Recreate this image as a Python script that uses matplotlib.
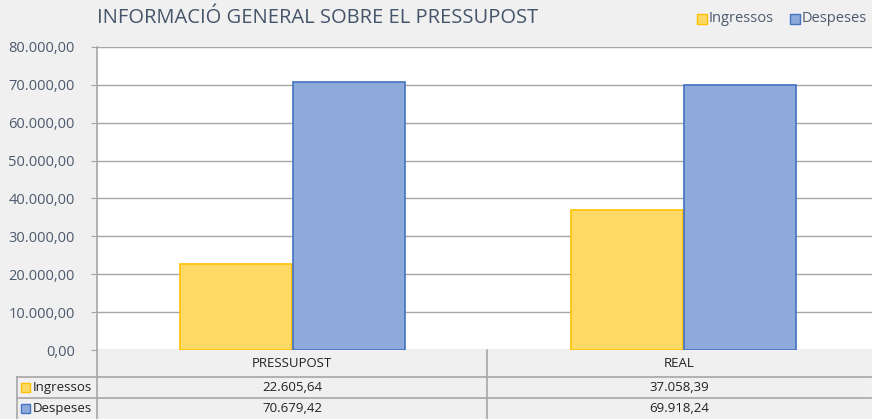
import matplotlib
matplotlib.use("Agg")
import matplotlib.pyplot as plt
import numpy as np
from matplotlib.lines import Line2D
from matplotlib.patches import Rectangle

categories = ["PRESSUPOST", "REAL"]
series = ["Ingressos", "Despeses"]
ingressos = [22605.64, 37058.39]
despeses = [70679.42, 69918.24]
yticks = [0, 10000, 20000, 30000, 40000, 50000, 60000, 70000, 80000]

BG, GRID, TXT, INK = "#f0f0f0", "#a6a6a6", "#4d5a6e", "#222222"
FILL = ["#ffd966", "#8eaadb"]
EDGE = ["#ffc000", "#4472c4"]
plt.rcParams.update({"font.family": ["Open Sans", "DejaVu Sans"]})

W, H = 872, 419
fig = plt.figure(figsize=(W / 100, H / 100), dpi=100)
fig.patch.set_facecolor(BG)

def fx(px): return px / W
def fy(py): return 1 - py / H

def eur(v):
    s = f"{v:,.2f}"
    return s.replace(",", "X").replace(".", ",").replace("X", ".")

def fline(x0, y0, x1, y1):
    fig.add_artist(Line2D([fx(x0), fx(x1)], [fy(y0), fy(y1)], color=GRID, lw=1.2,
                          transform=fig.transFigure))

# plot area runs a little past the right edge (clipped), like the source
L, R, T, B = 97, 879, 47, 350
ax = fig.add_axes([fx(L), fy(B), fx(R) - fx(L), fy(T) - fy(B)])
ax.set_facecolor("white")
x = np.arange(len(categories))
bw = 0.287
for i, vals in enumerate([ingressos, despeses]):
    ax.bar(x + (i - 0.5) * bw * 1.01, vals, bw, color=FILL[i], edgecolor=EDGE[i], lw=1.2,
           zorder=3, label=series[i])
ax.set_xlim(-0.5, len(categories) - 0.5)
ax.set_ylim(0, 80000)
ax.set_yticks(yticks)
ax.set_yticklabels([eur(v) for v in yticks], fontsize=10.5, color=TXT)
ax.grid(axis="y", color=GRID, lw=1)
ax.set_axisbelow(True)
ax.set_xticks([])
ax.tick_params(axis="y", length=4, color=GRID, pad=12)
for sp in ["top", "right", "bottom"]:
    ax.spines[sp].set_visible(False)
ax.spines["left"].set_color(GRID)
ax.spines["left"].set_linewidth(1.2)

fig.text(fx(L), fy(18), "INFORMACIÓ GENERAL SOBRE EL PRESSUPOST", fontsize=14.5,
         color="#44546a", ha="left", va="center")

# legend (top right)
lx = [697, 790]
for i, s in enumerate(series):
    fig.add_artist(Rectangle((fx(lx[i]), fy(24)), fx(10), 10 / H, facecolor=FILL[i],
                             edgecolor=EDGE[i], lw=1, transform=fig.transFigure))
    fig.text(fx(lx[i] + 12), fy(18.5), s, fontsize=10.5, color=TXT, ha="left", va="center")

# data table
TR = 871
rows = [377, 398, 419]
cols = [L, 487, TR]
fline(L, B, L, 419)
fline(487, B, 487, 419)
fline(17, rows[0], 17, 419)
fline(17, rows[0], TR, rows[0])
fline(17, rows[1], TR, rows[1])
for j, c in enumerate(categories):
    fig.text(fx((cols[j] + cols[j + 1]) / 2), fy((B + rows[0]) / 2), c, fontsize=9.5,
             color=INK, ha="center", va="center")
for i, vals in enumerate([ingressos, despeses]):
    yc = (rows[i] + rows[i + 1]) / 2
    fig.add_artist(Rectangle((fx(21), fy(yc + 4.5)), fx(9), 9 / H, facecolor=FILL[i],
                             edgecolor=EDGE[i], lw=1, transform=fig.transFigure))
    fig.text(fx(33), fy(yc), series[i], fontsize=9.5, color=INK, ha="left", va="center")
    for j, v in enumerate(vals):
        fig.text(fx((cols[j] + cols[j + 1]) / 2), fy(yc), eur(v), fontsize=9.5,
                 color=INK, ha="center", va="center")

fig.savefig("out.png", dpi=100, facecolor=BG)
